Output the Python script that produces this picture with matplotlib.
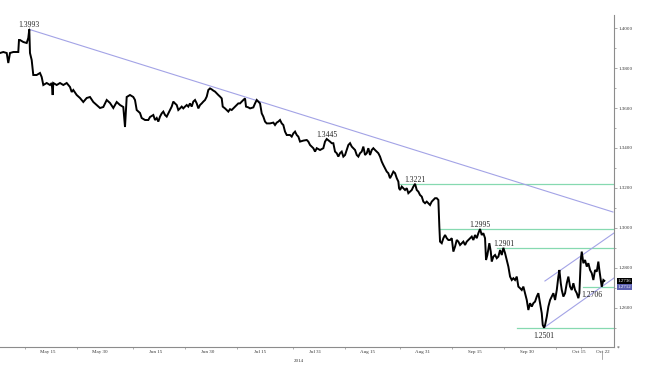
import matplotlib
matplotlib.use("Agg")
import matplotlib.pyplot as plt
import matplotlib.transforms as mtransforms
from matplotlib.ticker import MultipleLocator, FormatStrFormatter, NullFormatter
import pandas as pd

plt.rcParams['font.family'] = ['Liberation Serif', 'DejaVu Serif']

base = pd.Timestamp('2014-05-15')

days = [-13.83, -12.88, -11.90, -11.44, -10.95, -10.00, -8.56, -8.36, -8.07, -7.12,
        -6.14, -5.68, -5.39, -5.19, -4.70, -4.24, -3.26, -2.31, -1.82, -1.35,
        -0.37, 0.58, 1.07, 1.35, 1.53, 2.51, 3.46, 4.41, 5.39, 6.34,
        6.83, 7.29, 8.27, 9.22, 10.17, 11.15, 12.10, 13.06, 14.04, 14.99,
        15.94, 16.92, 17.87, 18.82, 19.80, 20.75, 21.70, 22.19, 22.68, 23.63,
        24.58, 25.07, 25.56, 26.51, 27.00, 27.96, 28.91,
        29.40, 30.35, 30.84, 31.33, 31.79, 32.28, 32.77, 33.23, 33.72, 34.21,
        34.67, 35.16, 35.65, 36.11, 36.60, 37.09, 37.55, 38.04, 38.53, 38.99,
        39.48, 39.97, 40.43, 40.92, 41.41, 41.87, 42.37, 42.86, 43.32, 43.81,
        44.30, 44.76, 45.25, 45.74, 46.20, 46.69, 47.18, 47.64, 48.13, 48.62,
        49.08, 49.57, 50.06, 50.35, 51.01, 51.50, 51.96, 52.45, 52.94, 53.40,
        53.89, 54.38, 54.84, 55.33, 55.82, 56.29, 56.78, 57.06, 57.73, 58.22,
        59.17, 59.66, 60.15, 60.61, 61.10, 61.59, 62.05, 62.54, 63.03, 63.98,
        64.93, 65.42, 65.91, 66.37, 66.86, 67.35, 67.81, 68.30, 68.79, 69.74,
        70.23, 70.70, 71.19, 71.68, 72.14,
        72.63, 73.58, 74.56, 75.02, 75.51, 76.46, 76.95, 77.44, 78.39, 79.34,
        79.83, 80.32, 81.27, 81.76, 82.22, 82.71, 83.20, 83.66, 84.15, 84.64,
        85.11, 85.60, 86.09, 86.55, 87.04, 87.53, 87.99, 88.48, 88.97, 89.43,
        89.92, 90.41, 90.87, 91.36, 91.85, 92.31, 92.80, 93.29, 93.75, 94.24,
        94.73, 95.19, 95.68, 96.17, 96.63, 97.12, 97.61, 98.07, 98.56, 99.05,
        99.52, 100.01, 100.50, 100.96, 101.16, 101.45, 101.94, 102.40, 102.89, 103.38,
        103.84, 104.33, 104.82, 105.28, 105.77, 106.26, 106.72, 107.21, 107.70, 108.16,
        108.65, 109.14, 109.60, 110.09, 110.58, 111.04, 111.53, 112.02, 112.49, 112.77,
        112.97, 113.46, 113.93, 114.42, 114.91, 115.37,
        115.86, 116.35, 116.81, 117.30, 117.79, 118.25, 118.74, 119.23, 119.69, 120.18,
        120.67, 121.13, 121.62, 122.11, 122.57, 123.06, 123.55, 124.01, 124.50, 124.99,
        125.45, 125.94, 126.23, 126.61, 127.18, 127.59, 127.87, 128.34, 128.83, 129.32,
        129.78, 130.27, 130.76, 131.22, 131.71, 132.20, 132.66, 133.15, 133.64, 134.10,
        134.59, 135.08, 135.54, 136.03, 136.52, 136.98, 137.47, 137.96, 138.42, 138.91,
        139.40, 139.86, 140.35, 140.84, 141.30, 141.79, 142.28, 142.57, 142.95, 143.24,
        143.73, 144.19, 144.68, 145.17, 145.63, 146.12, 146.61, 147.07, 147.36, 147.76,
        148.05, 148.51, 149.00, 149.49, 149.95, 150.44, 150.93, 151.39, 151.88, 152.37,
        152.83, 153.12, 153.52, 153.81, 154.27, 154.76, 155.25, 155.71, 156.20, 156.69,
        157.15, 157.64, 158.13, 158.59, 158.88, 159.29, 159.57, 160.04, 160.32]
prices = [1.3875, 1.3880, 1.3875, 1.3825, 1.3875, 1.3880, 1.3880, 1.3940, 1.3940, 1.3930,
          1.3925, 1.3950, 1.3993, 1.3875, 1.3840, 1.3765, 1.3765, 1.3775, 1.3755, 1.3715,
          1.3725, 1.3715, 1.3725, 1.3665, 1.3725, 1.3715, 1.3725, 1.3715, 1.3725, 1.3705,
          1.3680, 1.3690, 1.3665, 1.3650, 1.3630, 1.3650, 1.3655, 1.3630, 1.3615, 1.3600,
          1.3605, 1.3640, 1.3625, 1.3600, 1.3630, 1.3615, 1.3605, 1.3505, 1.3655, 1.3665,
          1.3655, 1.3640, 1.3590, 1.3575, 1.3550, 1.3540, 1.3540,
          1.3555, 1.3565, 1.3540, 1.3550, 1.3532, 1.3557, 1.3573, 1.3582, 1.3565, 1.3557,
          1.3573, 1.3590, 1.3607, 1.3632, 1.3623, 1.3615, 1.3590, 1.3598, 1.3607, 1.3598,
          1.3607, 1.3615, 1.3607, 1.3623, 1.3607, 1.3632, 1.3640, 1.3623, 1.3598, 1.3615,
          1.3623, 1.3632, 1.3640, 1.3657, 1.3690, 1.3698, 1.3693, 1.3687, 1.3682, 1.3673,
          1.3665, 1.3657, 1.3648, 1.3607, 1.3598, 1.3590, 1.3582, 1.3594, 1.3590, 1.3598,
          1.3607, 1.3615, 1.3623, 1.3623, 1.3632, 1.3640, 1.3648, 1.3607, 1.3603, 1.3598,
          1.3603, 1.3623, 1.3640, 1.3632, 1.3623, 1.3573, 1.3557, 1.3532, 1.3523, 1.3523,
          1.3527, 1.3515, 1.3527, 1.3532, 1.3540, 1.3523, 1.3515, 1.3482, 1.3465, 1.3465,
          1.3457, 1.3473, 1.3482, 1.3465, 1.3457,
          1.3432, 1.3437, 1.3440, 1.3432, 1.3415, 1.3399, 1.3382, 1.3399, 1.3390, 1.3399,
          1.3432, 1.3445, 1.3432, 1.3424, 1.3424, 1.3382, 1.3374, 1.3357, 1.3374, 1.3382,
          1.3357, 1.3365, 1.3390, 1.3415, 1.3424, 1.3407, 1.3399, 1.3390, 1.3365, 1.3357,
          1.3374, 1.3382, 1.3407, 1.3365, 1.3374, 1.3399, 1.3365, 1.3390, 1.3399, 1.3390,
          1.3382, 1.3374, 1.3357, 1.3332, 1.3315, 1.3299, 1.3282, 1.3274, 1.3249, 1.3265,
          1.3282, 1.3274, 1.3249, 1.3232, 1.3199, 1.3190, 1.3207, 1.3199, 1.3190, 1.3199,
          1.3174, 1.3182, 1.3190, 1.3207, 1.3221, 1.3190, 1.3182, 1.3165, 1.3157, 1.3132,
          1.3124, 1.3132, 1.3124, 1.3115, 1.3132, 1.3140, 1.3149, 1.3149, 1.3140, 1.3007,
          1.2932, 1.2924, 1.2949, 1.2965, 1.2949, 1.2940,
          1.2940, 1.2949, 1.2882, 1.2907, 1.2940, 1.2932, 1.2915, 1.2924, 1.2932, 1.2915,
          1.2932, 1.2940, 1.2949, 1.2957, 1.2940, 1.2965, 1.2949, 1.2974, 1.2995, 1.2965,
          1.2974, 1.2949, 1.2840, 1.2865, 1.2924, 1.2882, 1.2832, 1.2857, 1.2865, 1.2849,
          1.2857, 1.2890, 1.2865, 1.2901, 1.2874, 1.2840, 1.2807, 1.2757, 1.2740, 1.2749,
          1.2740, 1.2757, 1.2707, 1.2699, 1.2690, 1.2707, 1.2674, 1.2640, 1.2590, 1.2624,
          1.2607, 1.2624, 1.2632, 1.2657, 1.2674, 1.2624, 1.2574, 1.2515, 1.2501, 1.2515,
          1.2557, 1.2607, 1.2640, 1.2657, 1.2674, 1.2640, 1.2690, 1.2757, 1.2790, 1.2724,
          1.2690, 1.2657, 1.2674, 1.2724, 1.2757, 1.2707, 1.2690, 1.2724, 1.2690, 1.2674,
          1.2649, 1.2674, 1.2840, 1.2882, 1.2824, 1.2840, 1.2807, 1.2824, 1.2790, 1.2774,
          1.2740, 1.2790, 1.2782, 1.2832, 1.2790, 1.2740, 1.2706, 1.2740, 1.2736]

# marked levels: value, start day
level_values = [1.3221, 1.2995, 1.2901, 1.2706, 1.2501]
level_start = [101.4, 113.0, 129.4, 154.2, 135.1]

# trend lines (days, price)
trend_days = [-5.39, 162.8]
trend_prices = [1.3993, 1.3080]
chan_up_days = [143.2, 163.1]
chan_up_prices = [1.2735, 1.2975]
chan_lo_days = [143.2, 163.1]
chan_lo_prices = [1.2505, 1.2750]

# labelled highs / lows: day, price
peak_labels = ['1.3993', '1.3445', '1.3221', '1.2995', '1.2901', '1.2706', '1.2501']
peak_days = [-5.39, 80.32, 105.77, 124.50, 131.22, 159.57, 142.95]
peak_prices = [1.3993, 1.3445, 1.3221, 1.2995, 1.2901, 1.2706, 1.2501]

tick_dates = ['2014-05-15', '2014-05-30', '2014-06-15', '2014-06-30', '2014-07-15',
              '2014-07-31', '2014-08-15', '2014-08-31', '2014-09-15', '2014-09-30',
              '2014-10-15', '2014-10-22']
tick_labels = ['May 15', 'May 30', 'Jun 15', 'Jun 30', 'Jul 15', 'Jul 31', 'Aug 15',
               'Aug 31', 'Sep 15', 'Sep 30', 'Oct 15', 'Oct 22']

last_price = 1.2736
other_price = 1.2712


def to_dates(d):
    return base + pd.to_timedelta(d, unit='D')


green = '#86d9b0'
purple = '#a3a3e6'
gray = '#8c8c8c'

fig = plt.figure(figsize=(6.45, 3.68), dpi=100)
ax = fig.add_axes([0, 21 / 368, 614 / 645, 332 / 368])

for v, s in zip(level_values, level_start):
    ax.plot(to_dates([s, 164]), [v, v], color=green, lw=0.9, zorder=1)

ax.plot(to_dates(trend_days), trend_prices, color=purple, lw=0.8, zorder=1)
ax.plot(to_dates(chan_up_days), chan_up_prices, color=purple, lw=0.8, zorder=1)
ax.plot(to_dates(chan_lo_days), chan_lo_prices, color=purple, lw=0.8, zorder=1)

ax.plot(to_dates(days), prices, color='black', lw=1.4, solid_joinstyle='miter', zorder=3)

# label offsets in points
offsets = [(0, 3), (0, 3), (0, 3), (0, 3), (0, 3), (-7, -6), (0, -6)]
for lab, d, p, off in zip(peak_labels, peak_days, peak_prices, offsets):
    ax.annotate(lab, (to_dates([d])[0], p), xytext=off, textcoords='offset points',
                ha='center', va='center', fontsize=5.5, color='#222222', zorder=4)
ax.vlines(to_dates([peak_days[0]])[0], peak_prices[0], peak_prices[0] + 0.0012,
          color=gray, lw=0.6)

ax.set_xlim(to_dates([-13.83])[0], to_dates([163.1])[0])
ax.set_ylim(1.2405, 1.4065)

ax.yaxis.tick_right()
ax.yaxis.set_major_locator(MultipleLocator(0.02))
ax.yaxis.set_minor_locator(MultipleLocator(0.01))
ax.yaxis.set_major_formatter(FormatStrFormatter('%.4f'))
ax.tick_params(axis='y', which='major', direction='out', length=2, width=0.5,
               colors=gray, labelcolor='#333333', labelsize=3.6, pad=1.5)
ax.tick_params(axis='y', which='minor', direction='out', length=1.5, width=0.5, colors=gray)

tick_pos = pd.to_datetime(tick_dates)
ax.set_xticks(tick_pos)
ax.set_xticklabels(tick_labels)
ax.set_xticks(tick_pos - pd.Timedelta(days=6.5), minor=True)
ax.xaxis.set_minor_formatter(NullFormatter())
ax.tick_params(axis='x', which='major', length=0, labelsize=3.6, labelcolor='#333333', pad=2)
ax.tick_params(axis='x', which='minor', direction='out', length=1.5, width=0.5, colors=gray)

for side in ['top', 'left']:
    ax.spines[side].set_visible(False)
for side in ['bottom', 'right']:
    ax.spines[side].set_color(gray)
    ax.spines[side].set_linewidth(0.8)

trans = mtransforms.blended_transform_factory(ax.transData, ax.transAxes)
ax.text(to_dates([72.3])[0], -0.035, '2014', transform=trans, ha='center', va='top',
        fontsize=3.6, color='#333333')
ax.plot([to_dates([159.6])[0]] * 2, [-0.015, -0.035], transform=trans, color=gray,
        lw=0.5, clip_on=False)
ax.text(1.004, -0.003, '*', transform=ax.transAxes, fontsize=4, color='#333333',
        ha='left', va='center')

# current price boxes on the axis
ytrans = mtransforms.blended_transform_factory(ax.transAxes, ax.transData)
ax.text(1.006, last_price, '1.2736', transform=ytrans, fontsize=3.6, color='white',
        ha='left', va='center', bbox=dict(boxstyle='square,pad=0.15', fc='black', ec='none'))
ax.text(1.006, other_price - 0.0008, '1.2712', transform=ytrans, fontsize=3.6, color='white',
        ha='left', va='center', bbox=dict(boxstyle='square,pad=0.15', fc='#5b5fb0', ec='none'))

fig.savefig('out.png', dpi=100)
